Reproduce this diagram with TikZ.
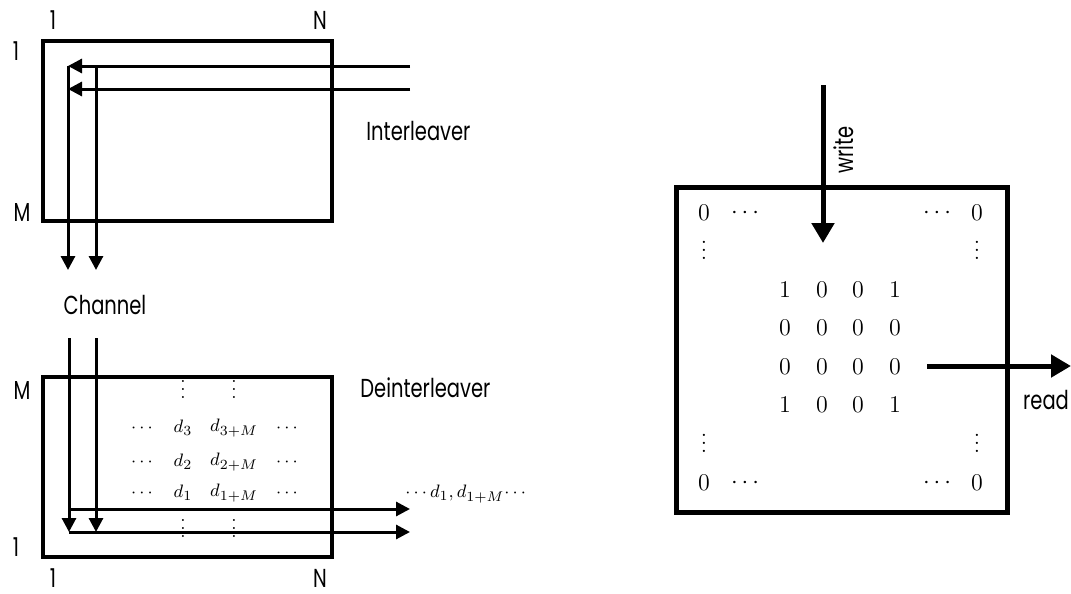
\documentclass[tikz,border=0pt]{standalone}
\usepackage{fontspec}
\newfontfamily\lblfont{Poppins}[FakeStretch=0.75]
\usetikzlibrary{arrows.meta}

\begin{document}
\begin{tikzpicture}[
x=0.5pt, y=-0.5pt,
lbl/.style={font=\lblfont\fontsize{13}{15}\selectfont, inner sep=0pt},
frame/.style={draw, line width=2pt, inner sep=0pt, minimum width=144.5pt, minimum height=90pt},
sqframe/.style={draw, line width=2.5pt, inner sep=0pt, minimum width=165.5pt, minimum height=162.5pt},
flow/.style={line width=1.5pt, -{Triangle[length=7pt, width=7pt]}},
bigflow/.style={line width=2.5pt, -{Triangle[length=10pt, width=11pt]}},
cell/.style={font=\fontsize{9.5}{11}\selectfont, inner sep=0pt},
bit/.style={font=\fontsize{11.5}{13}\selectfont, inner sep=0pt},
vdot/.style={anchor=base, inner sep=0pt}
]
\useasboundingbox (0,0) rectangle (1071,594);

% interleaver
\node[frame] (ilv) at (187.5,131) {};
\node[lbl] (ilvcol1) at (53,20) {1};
\node[lbl] (ilvcolN) at (320,20) {N};
\node[lbl] (ilvrow1) at (16,51) {1};
\node[lbl] (ilvrowM) at (22,213) {M};
\node[lbl, anchor=west] (ilvname) at (366,131) {Interleaver};

\coordinate (wr1) at (410,66);
\coordinate (wr2) at (410,89);
\coordinate (wr1end) at (68,66);
\coordinate (wr2end) at (68,89);
\coordinate (rd1) at (96,66);
\coordinate (rd1end) at (96,270);
\coordinate (rd2end) at (68,270);
\draw[flow] (wr1) -- (wr1end);
\draw[flow] (wr2) -- (wr2end);
\draw[flow] (wr1end) -- (rd2end);
\draw[flow] (rd1) -- (rd1end);

\node[lbl] (chan) at (105,305) {Channel};

% deinterleaver
\node[frame] (dil) at (187.5,466.5) {};
\node[lbl] (dilrowM) at (22,390) {M};
\node[lbl] (dilrow1) at (16,547) {1};
\node[lbl] (dilcol1) at (53,578) {1};
\node[lbl] (dilcolN) at (320,578) {N};
\node[lbl, anchor=west] (dilname) at (360,388) {Deinterleaver};

\coordinate (in1) at (69,338);
\coordinate (in2) at (96,338);
\coordinate (in1end) at (69,532);
\coordinate (in2end) at (96,532);
\coordinate (out1) at (69,509);
\coordinate (out1end) at (410,509);
\coordinate (out2end) at (410,532);
\draw[flow] (in1) -- (in1end);
\draw[flow] (in2) -- (in2end);
\draw[flow] (out1) -- (out1end);
\draw[flow] (in1end) -- (out2end);

\foreach \r/\yy in {3/428,2/462,1/493}{
  \node[cell] (dl\r) at (142,\yy) {$\cdots$};
  \node[cell] (da\r) at (183,\yy) {$d_{\r}$};
  \node[cell] (db\r) at (234,\yy) {$d_{\r+M}$};
  \node[cell] (dr\r) at (287,\yy) {$\cdots$};
}
\node[cell, vdot] (dvtop1) at (183,398) {\smash{$\vdots$}};
\node[cell, vdot] (dvtop2) at (234,398) {\smash{$\vdots$}};
\node[cell, vdot] (dvbot1) at (183,537) {\smash{$\vdots$}};
\node[cell, vdot] (dvbot2) at (234,537) {\smash{$\vdots$}};
\node[cell, anchor=west] (dout) at (405,494) {$\cdots d_1, d_{1+M}\!\cdots$};

% block matrix
\node[sqframe] (blk) at (841.5,349.5) {};
\node[bit] (z1) at (704,213) {$0$};
\node[bit] (h1) at (745,213) {$\cdots$};
\node[bit] (h2) at (937,213) {$\cdots$};
\node[bit] (z2) at (977,213) {$0$};
\node[bit, vdot] (v1) at (704,259) {\smash{$\vdots$}};
\node[bit, vdot] (v2) at (977,259) {\smash{$\vdots$}};
\node[bit, vdot] (v3) at (704,452) {\smash{$\vdots$}};
\node[bit, vdot] (v4) at (977,452) {\smash{$\vdots$}};
\node[bit] (z3) at (704,483) {$0$};
\node[bit] (h3) at (745,483) {$\cdots$};
\node[bit] (h4) at (937,483) {$\cdots$};
\node[bit] (z4) at (977,483) {$0$};
\foreach \row/\yy/\a/\b/\c/\d in {1/290/1/0/0/1,2/328/0/0/0/0,3/367/0/0/0/0,4/405/1/0/0/1}{
  \node[bit] (m\row a) at (785,\yy) {$\a$};
  \node[bit] (m\row b) at (822,\yy) {$\b$};
  \node[bit] (m\row c) at (858,\yy) {$\c$};
  \node[bit] (m\row d) at (895,\yy) {$\d$};
}

\coordinate (wtop) at (823,85);
\coordinate (wend) at (823,243);
\coordinate (rstart) at (927,366);
\coordinate (rend) at (1071,366);
\draw[bigflow] (wtop) -- (wend);
\draw[bigflow] (rstart) -- (rend);
\node[lbl, rotate=90] (wlbl) at (844,150) {write};
\node[lbl] (rlbl) at (1046,400) {read};
\end{tikzpicture}
\end{document}
